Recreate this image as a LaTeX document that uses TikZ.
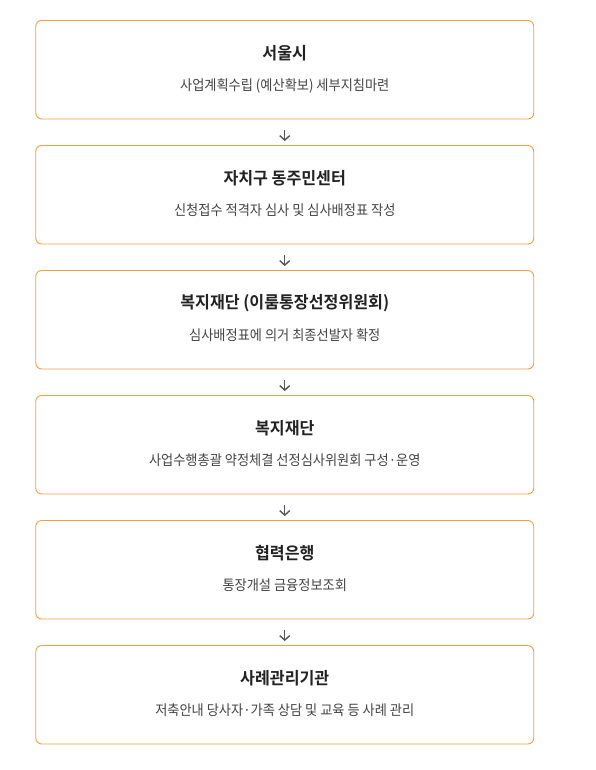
\documentclass[tikz,border=0pt]{standalone}
\usepackage{fontspec}
\setmainfont{Noto Sans CJK KR}
\newfontfamily\subfont[FakeStretch=0.93]{Noto Sans CJK KR}
\newfontfamily\titfont[FakeStretch=0.96]{Noto Sans CJK KR Bold}
\usetikzlibrary{arrows.meta}
\definecolor{boxline}{HTML}{F0A040}
\definecolor{titcol}{HTML}{222222}
\definecolor{subcol}{HTML}{444444}
\definecolor{arrcol}{HTML}{555555}
\tikzset{
  stepbox/.style={draw=boxline, line width=0.9pt, rounded corners=6pt, fill=white,
    minimum width=498pt, minimum height=98.5pt, inner sep=0pt},
  titletext/.style={font=\titfont\fontsize{16.8}{20}\selectfont, text=titcol, inner sep=0pt},
  subtext/.style={font=\subfont\fontsize{14.2}{17}\selectfont, text=subcol, inner sep=0pt},
  arr/.style={draw=arrcol, line width=1.4pt, -{Straight Barb[length=4.5pt,width=10pt]},
    shorten <=11pt, shorten >=4pt}
}
\begin{document}
\begin{tikzpicture}[x=1pt,y=1pt]
\useasboundingbox (0,0) rectangle (596,-770);
\foreach \i/\t/\s in {
  1/{서울시}/{사업계획수립 (예산확보) 세부지침마련},
  2/{자치구 동주민센터}/{신청접수 적격자 심사 및 심사배정표 작성},
  3/{복지재단 (이룸통장선정위원회)}/{심사배정표에 의거 최종선발자 확정},
  4/{복지재단}/{사업수행총괄 약정체결 선정심사위원회 구성·운영},
  5/{협력은행}/{통장개설 금융정보조회},
  6/{사례관리기관}/{저축안내 당사자·가족 상담 및 교육 등 사례 관리}}
{
  \node[stepbox] (b\i) at (284.75, {-20.5-125*(\i-1)-49.25}) {};
  \node[titletext] (t\i) at ([yshift=-33.5pt]b\i.north) {\t};
  \node[subtext] (s\i) at ([yshift=-65.5pt]b\i.north) {\s};
}
\foreach \i [evaluate=\i as \j using int(\i+1)] in {1,...,5}
  \draw[arr] (b\i.south) -- (b\j.north);
\end{tikzpicture}
\end{document}
